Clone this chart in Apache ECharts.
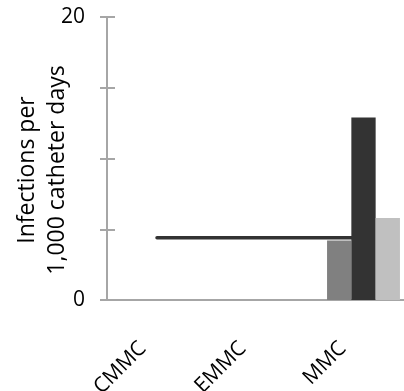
<!DOCTYPE html>
<html>
<head>
<meta charset="utf-8">
<script src="https://cdn.jsdelivr.net/npm/echarts@6/dist/echarts.min.js"></script>
<style>
html,body{margin:0;padding:0;background:#fff;}
#chart{width:404px;height:391px;}
</style>
</head>
<body>
<div id="chart"></div>
<script>
const categories = ['CMMC', 'EMMC', 'MMC'];
const lineValues = [4.4, 4.4, 4.4];
const barSeriesA = [null, null, 4.2];
const barSeriesB = [null, null, 12.9];
const barSeriesC = [null, null, 5.8];
const yLabelValues = [0, 20];
const yAxisTitle = 'Infections per\n1,000 catheter days';

const FONT = '"Open Sans", "Noto Sans", sans-serif';
const AXIS_COLOR = '#a6a6a6';
const chart = echarts.init(document.getElementById('chart'), null, {renderer: 'canvas'});

const yBase = {min: 0, max: 20, interval: 5, splitLine: {show: false}};

chart.setOption({
  animation: false,
  backgroundColor: '#fff',
  grid: [
    {left: 107, top: 17, width: 300, height: 283, containLabel: false, outerBoundsMode: 'none'},
    {left: 113.5, top: 17, width: 300, height: 283, containLabel: false, outerBoundsMode: 'none'}
  ],
  xAxis: [
    {
      type: 'category', gridIndex: 0, data: categories, boundaryGap: true,
      axisLine: {lineStyle: {color: AXIS_COLOR, width: 2}},
      axisTick: {show: false},
      axisLabel: {rotate: 45, margin: 31, padding: [0, 20, 0, 0], color: '#000', fontFamily: FONT, fontSize: 21, interval: 0}
    },
    {
      type: 'category', gridIndex: 1, data: categories, show: false
    }
  ],
  yAxis: [
    Object.assign({}, yBase, {
      type: 'value', gridIndex: 0,
      axisLine: {show: true, lineStyle: {color: AXIS_COLOR, width: 2}},
      axisTick: {show: true, length: 7, lineStyle: {color: AXIS_COLOR, width: 2}},
      axisLabel: {
        margin: 22, color: '#000', fontFamily: FONT, fontSize: 21,
        formatter: v => yLabelValues.includes(v) ? String(v) : ''
      }
    }),
    Object.assign({}, yBase, {
      type: 'value', gridIndex: 0, position: 'left',
      axisLine: {show: false},
      axisTick: {show: true, inside: true, length: 8, lineStyle: {color: AXIS_COLOR, width: 2}},
      axisLabel: {show: false}
    }),
    Object.assign({}, yBase, {type: 'value', gridIndex: 1, show: false})
  ],
  graphic: [{
    type: 'text',
    x: 42, y: 170,
    rotation: Math.PI / 2,
    style: {
      text: yAxisTitle,
      font: '23px ' + FONT,
      fill: '#000',
      textAlign: 'center',
      textVerticalAlign: 'middle',
      lineHeight: 30
    }
  }],
  series: [
    {
      type: 'line', xAxisIndex: 0, yAxisIndex: 0, data: lineValues,
      showSymbol: false, symbol: 'none', z: 2,
      lineStyle: {color: '#333333', width: 3.5, cap: 'round'}
    },
    {
      type: 'bar', xAxisIndex: 1, yAxisIndex: 2, data: barSeriesA,
      barWidth: 24.3, barGap: '0%', z: 3, itemStyle: {color: '#808080'}
    },
    {
      type: 'bar', xAxisIndex: 1, yAxisIndex: 2, data: barSeriesB,
      barWidth: 24.3, barGap: '0%', z: 3, itemStyle: {color: '#333333'}
    },
    {
      type: 'bar', xAxisIndex: 1, yAxisIndex: 2, data: barSeriesC,
      barWidth: 24.3, barGap: '0%', z: 3, itemStyle: {color: '#c0c0c0'}
    }
  ]
});
</script>
</body>
</html>
